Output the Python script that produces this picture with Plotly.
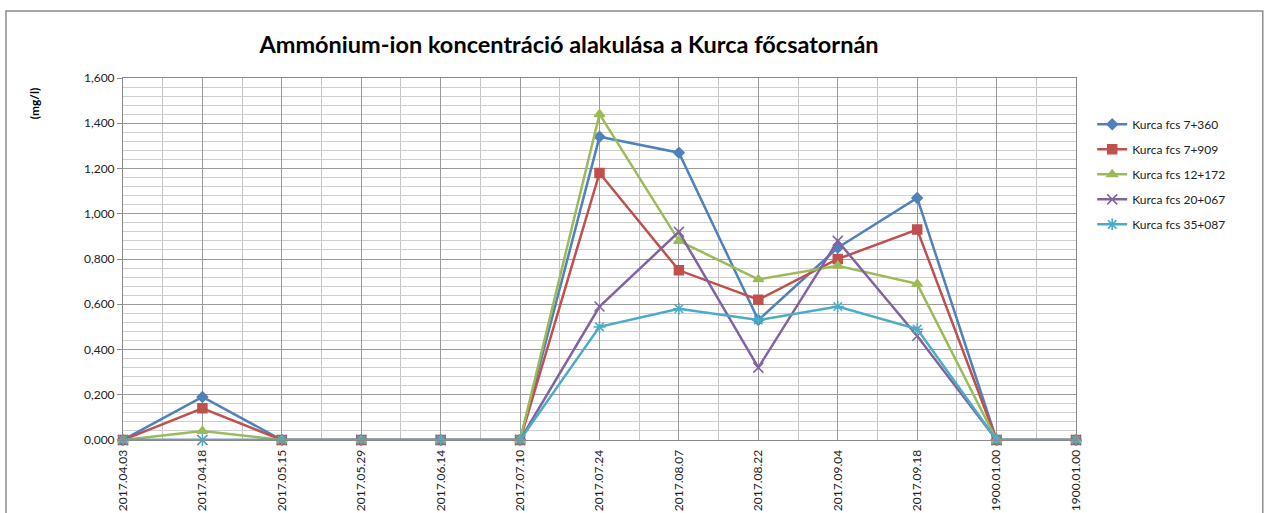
import plotly.graph_objects as go

# Mintavételi időpontok (az utolsó kettő üres cella az Excelben)
dates = ["2017.04.03", "2017.04.18", "2017.05.15", "2017.05.29", "2017.06.14",
         "2017.07.10", "2017.07.24", "2017.08.07", "2017.08.22", "2017.09.04",
         "2017.09.18", "1900.01.00", "1900.01.00"]

kurca_7_360 = [0, 0.19, 0, 0, 0, 0, 1.34, 1.27, 0.53, 0.85, 1.07, 0, 0]
kurca_7_909 = [0, 0.14, 0, 0, 0, 0, 1.18, 0.75, 0.62, 0.80, 0.93, 0, 0]
kurca_12_172 = [0, 0.04, 0, 0, 0, 0, 1.44, 0.88, 0.71, 0.77, 0.69, 0, 0]
kurca_20_067 = [0, 0, 0, 0, 0, 0, 0.59, 0.92, 0.32, 0.88, 0.46, 0, 0]
kurca_35_087 = [0, 0, 0, 0, 0, 0, 0.50, 0.58, 0.53, 0.59, 0.49, 0, 0]

series_names = ["Kurca fcs 7+360", "Kurca fcs 7+909", "Kurca fcs 12+172",
                "Kurca fcs 20+067", "Kurca fcs 35+087"]
series_values = [kurca_7_360, kurca_7_909, kurca_12_172, kurca_20_067, kurca_35_087]
colors = ["#4F81BD", "#C0504D", "#9BBB59", "#8064A2", "#4BACC6"]
symbols = ["diamond", "square", "triangle-up", "x-thin-open", "asterisk-open"]
sizes = [8, 9, 9, 10, 10]

x_pos = list(range(len(dates)))

fig = go.Figure()

for name, vals, col, sym, sz in zip(series_names, series_values, colors, symbols, sizes):
    fig.add_trace(go.Scatter(
        x=x_pos,
        y=vals,
        mode="lines+markers",
        name=name,
        legendgroup=name,
        line=dict(color=col, width=2.5),
        marker=dict(symbol=sym, size=sz, color=col, line=dict(color=col, width=1.5)),
        cliponaxis=False,
    ))

fig.update_layout(
    width=1264,
    height=513,
    margin=dict(l=123, r=188, t=78, b=73),
    paper_bgcolor="white",
    plot_bgcolor="white",
    separators=",.",
    font=dict(family="Lato, Calibri, sans-serif", size=12, color="#222222"),
    title=dict(
        text="<b>Ammónium-ion koncentráció alakulása a Kurca főcsatornán</b>",
        xref="paper", x=0.468, xanchor="center", y=0.912, yanchor="middle",
        font=dict(family="Lato, Calibri, sans-serif", size=23.5, color="black"),
    ),
    legend=dict(
        x=1.017, xanchor="left", y=0.912, yanchor="top",
        font=dict(size=12, color="#222222"),
        tracegroupgap=6,
        itemwidth=30,
        bgcolor="rgba(0,0,0,0)",
    ),
    showlegend=True,
)

fig.update_xaxes(
    range=[0, len(dates) - 1],
    tickmode="array",
    tickvals=x_pos,
    ticktext=dates,
    tickangle=-90,
    tickfont=dict(size=12, color="#222222"),
    ticklabelstandoff=4,
    automargin=False,
    showgrid=True,
    gridcolor="#9a9a9a",
    gridwidth=1,
    minor=dict(tickvals=[i + 0.5 for i in x_pos[:-1]], showgrid=True,
               gridcolor="#c4c4c4", gridwidth=1),
    showline=True,
    linecolor="#8a8a8a",
    mirror=True,
    zeroline=False,
    ticks="",
)

fig.update_yaxes(
    range=[0, 1.6],
    dtick=0.2,
    tickformat=".3f",
    tickfont=dict(size=12, color="#222222"),
    automargin=False,
    showgrid=True,
    gridcolor="#9a9a9a",
    gridwidth=1,
    minor=dict(dtick=0.04, showgrid=True, gridcolor="#cfcfcf", gridwidth=1),
    showline=True,
    linecolor="#8a8a8a",
    mirror=True,
    zeroline=False,
    ticks="outside",
    ticklen=5,
    tickcolor="#8a8a8a",
)

# y tengely felirata
fig.add_annotation(
    text="<b>(mg/l)</b>",
    xref="paper", yref="paper",
    x=-0.092, y=0.931,
    xanchor="center", yanchor="middle",
    showarrow=False,
    textangle=-90,
    font=dict(size=12, color="black"),
)

# külső keret
fig.add_shape(
    type="rect", xref="paper", yref="paper",
    x0=-0.1228, y0=-0.3, x1=1.196, y1=1.185,
    line=dict(color="#8c8c8c", width=1.5),
    layer="below",
)

# a lap alapértelmezett margója nélkül
fig.write_html("out.html", config={"displayModeBar": False},
               post_script="document.body.style.margin='0';")
